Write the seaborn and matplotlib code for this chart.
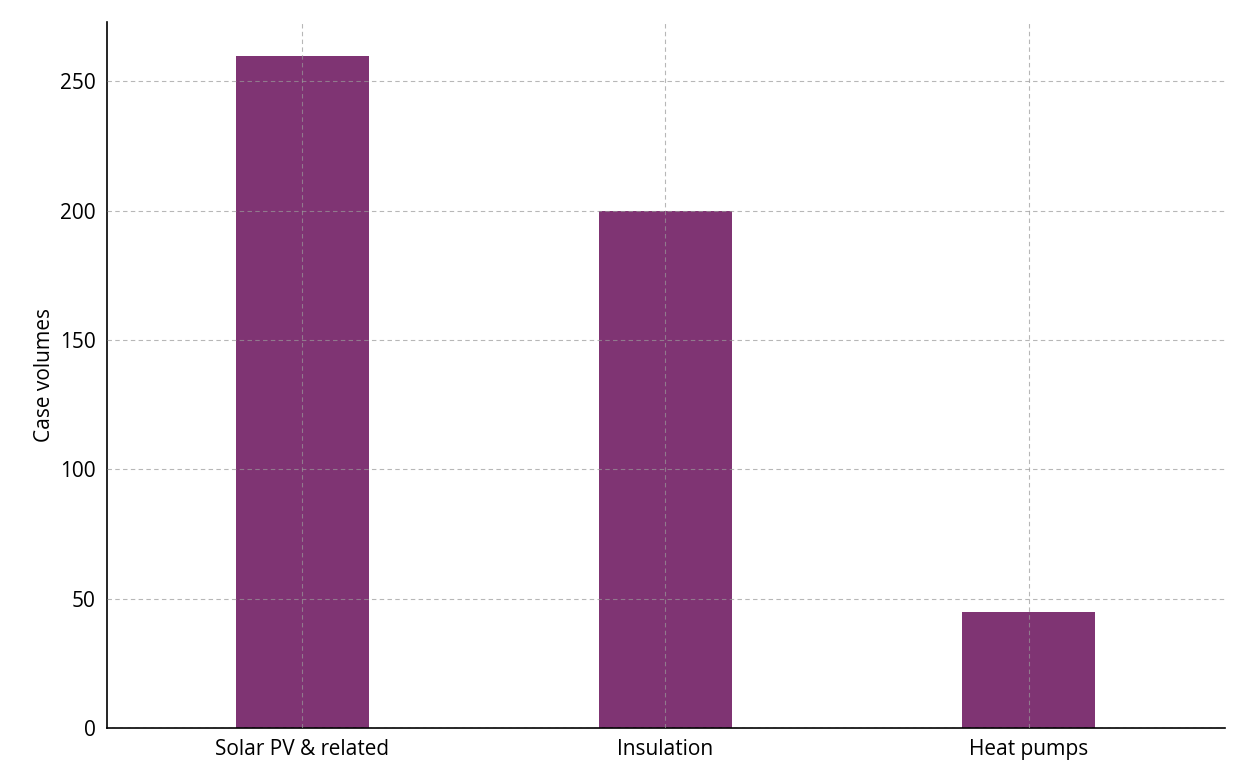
import matplotlib
matplotlib.use("Agg")
import matplotlib.pyplot as plt
import seaborn as sns
import pandas as pd

categories = ["Solar PV & related", "Insulation", "Heat pumps"]
values = [260, 200, 45]

plt.rcParams["font.family"] = "Open Sans"
df = pd.DataFrame({"cat": categories, "val": values})
fig = plt.figure(figsize=(12.48, 7.81), dpi=100)
ax = fig.add_axes([0.0857, 0.0679, 0.8959, 0.9039])
sns.barplot(data=df, x="cat", y="val", color="#7f3473", saturation=1, width=0.366, ax=ax)
ax.set_xlim(-0.537, 2.54)
ax.set_ylim(0, 273)
ax.set_yticks([0, 50, 100, 150, 200, 250])
ax.set_axisbelow(False)
ax.grid(True, linestyle=(0, (4, 3)), color="#999999", linewidth=0.8, alpha=0.7)
for s in ["top", "right"]:
    ax.spines[s].set_visible(False)
ax.spines["left"].set_linewidth(1.2)
ax.spines["bottom"].set_linewidth(1.2)
ax.tick_params(labelsize=15, length=0, pad=8)
ax.set_xlabel("")
ax.set_ylabel("Case volumes", fontsize=15)
fig.savefig("out.png", dpi=100)
